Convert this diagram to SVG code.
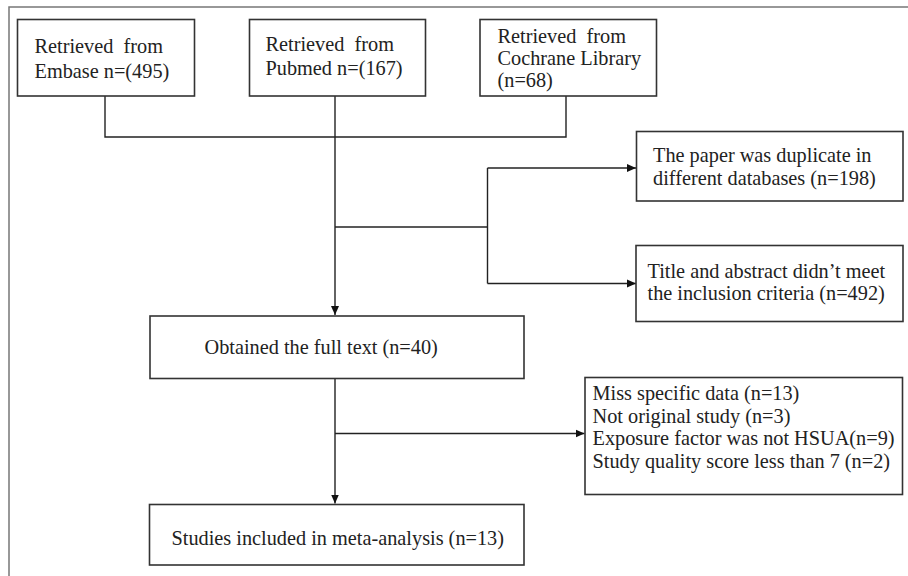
<svg xmlns="http://www.w3.org/2000/svg" width="908" height="576" viewBox="0 0 908 576">
<style>
.box{fill:#fff;stroke:#333;stroke-width:1.6}
.t{font-family:"Liberation Serif","Times New Roman",serif;font-size:20.3px;fill:#222}
.ln{fill:none;stroke:#222;stroke-width:1.4}
</style>
<defs>
<marker id="ah" markerWidth="10" markerHeight="10" refX="9" refY="5" orient="auto" markerUnits="userSpaceOnUse">
<path d="M0,1 L9,5 L0,9 Z" fill="#111"/>
</marker>
</defs>
<rect x="0" y="0" width="908" height="576" fill="#fff"/>
<rect x="9" y="7" width="1000" height="1000" fill="none" stroke="#777" stroke-width="1.5"/>
<g id="connectors">
<polyline class="ln" points="105,96 105,137 566,137 566,96"/>
<line class="ln" x1="335" y1="96" x2="335" y2="315" marker-end="url(#ah)"/>
<polyline class="ln" points="335,227 487.5,227"/>
<line class="ln" x1="487.5" y1="168" x2="487.5" y2="283.5"/>
<line class="ln" x1="487.5" y1="168" x2="636" y2="168" marker-end="url(#ah)"/>
<line class="ln" x1="487.5" y1="283.5" x2="636" y2="283.5" marker-end="url(#ah)"/>
<line class="ln" x1="335" y1="378" x2="335" y2="503.5" marker-end="url(#ah)"/>
<line class="ln" x1="335" y1="433.5" x2="584.5" y2="433.5" marker-end="url(#ah)"/>
</g>
<g id="embase">
<rect class="box" x="17.5" y="19.5" width="177" height="76.5"/>
<text class="t" x="34.5" y="52.5" xml:space="preserve">Retrieved  from</text>
<text class="t" x="34.5" y="77.5">Embase n=(495)</text>
</g>
<g id="pubmed">
<rect class="box" x="249.5" y="19.5" width="176" height="76.5"/>
<text class="t" x="265.5" y="50.5" xml:space="preserve">Retrieved  from</text>
<text class="t" x="265.5" y="75">Pubmed n=(167)</text>
</g>
<g id="cochrane">
<rect class="box" x="480" y="19.5" width="176.5" height="76.5"/>
<text class="t" x="497.5" y="42.5" xml:space="preserve">Retrieved  from</text>
<text class="t" x="497.5" y="65">Cochrane Library</text>
<text class="t" x="497.5" y="86.5">(n=68)</text>
</g>
<g id="duplicate">
<rect class="box" x="636.5" y="131.5" width="266.5" height="69.5"/>
<text class="t" x="653" y="161.5">The paper was duplicate in</text>
<text class="t" x="653" y="185">different databases (n=198)</text>
</g>
<g id="title-abstract">
<rect class="box" x="636" y="245.5" width="267" height="76"/>
<text class="t" x="647.5" y="277.5">Title and abstract didn’t meet</text>
<text class="t" x="647.5" y="300">the inclusion criteria (n=492)</text>
</g>
<g id="fulltext">
<rect class="box" x="150" y="316" width="374" height="62.5"/>
<text class="t" x="204.5" y="354">Obtained the full text (n=40)</text>
</g>
<g id="exclusions">
<rect class="box" x="585" y="377.5" width="317.5" height="117"/>
<text class="t" x="592.5" y="400">Miss specific data (n=13)</text>
<text class="t" x="592.5" y="422.7">Not original study (n=3)</text>
<text class="t" x="592.5" y="445.4">Exposure factor was not HSUA(n=9)</text>
<text class="t" x="592.5" y="468.2">Study quality score less than 7 (n=2)</text>
</g>
<g id="included">
<rect class="box" x="149.5" y="504.5" width="374.5" height="60.5"/>
<text class="t" x="171.5" y="544.5">Studies included in meta-analysis (n=13)</text>
</g>
</svg>
